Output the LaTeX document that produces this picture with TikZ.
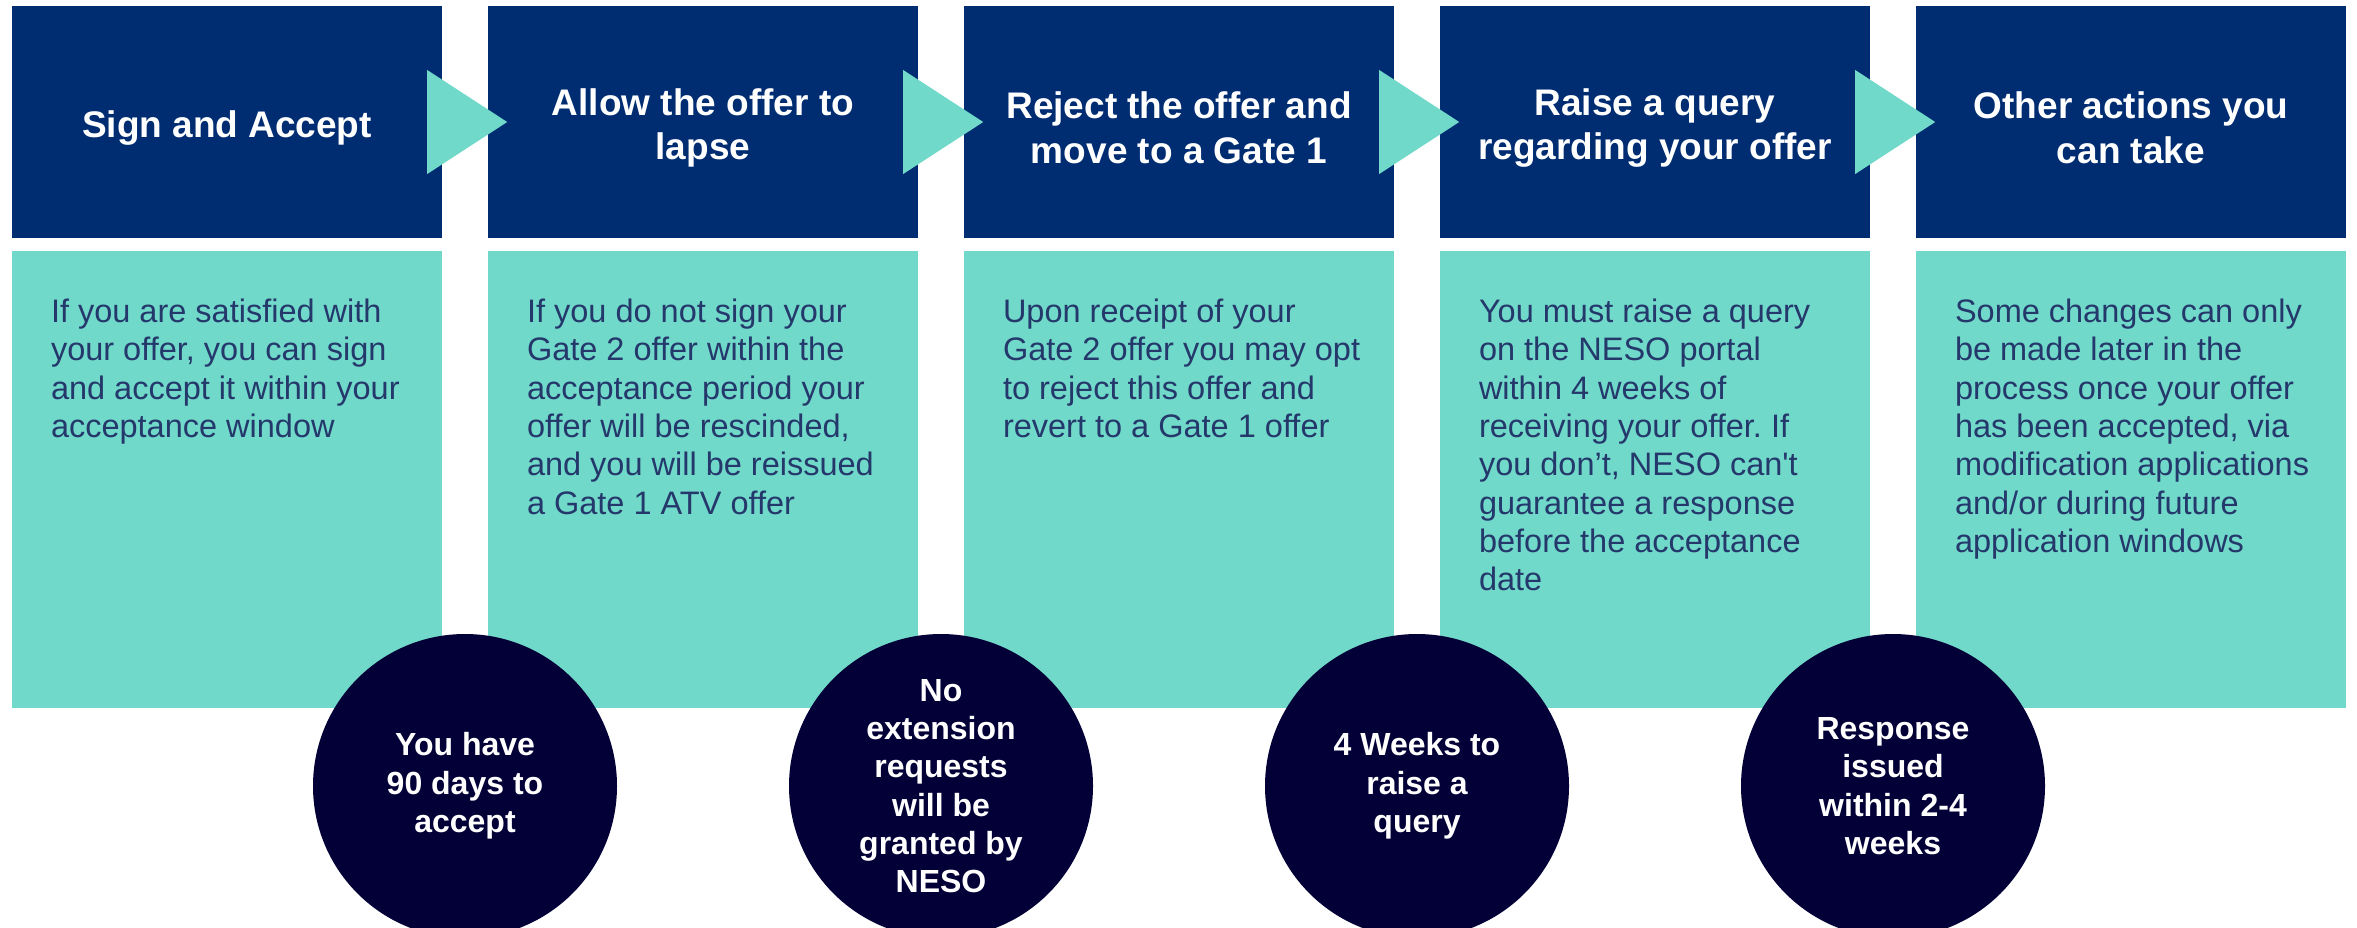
\documentclass[tikz,border=0pt]{standalone}
\usepackage{fontspec}
\setmainfont{Liberation Sans}[Ligatures=TeXOff]
\usepackage{tikz}
\usepackage{xcolor}
\frenchspacing
\definecolor{HeadNavy}{HTML}{002D72}
\definecolor{BodyTeal}{HTML}{71D9C9}
\definecolor{BodyText}{HTML}{24386B}
\definecolor{DotNavy}{HTML}{020036}
\newcommand\headsa{Sign and Accept}
\newcommand\headlapse{Allow the offer to\\lapse}
\newcommand\headreject{Reject the offer and\\move to a Gate 1}
\newcommand\headquery{Raise a query\\regarding your offer}
\newcommand\headother{Other actions you\\can take}
\newcommand\bodysa{If you are satisfied with\\your offer, you can sign\\and accept it within your\\acceptance window}
\newcommand\bodylapse{If you do not sign your\\Gate 2 offer within the\\acceptance period your\\offer will be rescinded,\\and you will be reissued\\a Gate 1 ATV offer}
\newcommand\bodyreject{Upon receipt of your\\Gate 2 offer you may opt\\to reject this offer and\\revert to a Gate 1 offer}
\newcommand\bodyquery{You must raise a query\\on the NESO portal\\within 4 weeks of\\receiving your offer. If\\you don’t, NESO can't\\guarantee a response\\before the acceptance\\date}
\newcommand\bodyother{Some changes can only\\be made later in the\\process once your offer\\has been accepted, via\\modification applications\\and/or during future\\application windows}
\newcommand\dotdays{You have\\90 days to\\accept}
\newcommand\dotext{No\\extension\\requests\\will be\\granted by\\NESO}
\newcommand\dotweeks{4 Weeks to\\raise a\\query}
\newcommand\dotresp{Response\\issued\\within 2-4\\weeks}
\tikzstyle{head} = [rectangle, inner sep=0pt, minimum width=430pt, minimum height=232pt, fill=HeadNavy]
\tikzstyle{headtext} = [inner sep=0pt, yshift=-6pt, text=white, align=center, font=\bfseries\fontsize{37pt}{44.5pt}\selectfont]
\tikzstyle{body} = [rectangle, inner sep=0pt, minimum width=430pt, minimum height=457pt, fill=BodyTeal]
\tikzstyle{bodytext} = [anchor=north west, inner sep=0pt, text=BodyText, align=left, font=\fontsize{32.5pt}{38.3pt}\selectfont]
\tikzstyle{dot} = [circle, inner sep=0pt, minimum size=304pt, fill=DotNavy, text=white, align=center, font=\bfseries\fontsize{32pt}{38.3pt}\selectfont]
\tikzstyle{tri} = [fill=BodyTeal]

\begin{document}
\begin{tikzpicture}[x=1pt, y=-1pt]
\useasboundingbox[fill=white] (0,0) rectangle (2357,927);
\node[head] (h1) at (227, 122) {};
\node[head] (h2) at (703, 122) {};
\node[head] (h3) at (1179, 122) {};
\node[head] (h4) at (1655, 122) {};
\node[head] (h5) at (2131, 122) {};
\node[headtext] (n1) at (h1.center) {\headsa};
\node[headtext] (n2) at (h2.center) {\headlapse};
\node[headtext] (n3) at (h3.center) {\headreject};
\node[headtext] (n4) at (h4.center) {\headquery};
\node[headtext] (n5) at (h5.center) {\headother};
\node[body] (b1) at (227, 479.5) {};
\node[body] (b2) at (703, 479.5) {};
\node[body] (b3) at (1179, 479.5) {};
\node[body] (b4) at (1655, 479.5) {};
\node[body] (b5) at (2131, 479.5) {};
\node[bodytext] (t1) at ([xshift=39pt, yshift=-48pt]b1.north west) {\bodysa};
\node[bodytext] (t2) at ([xshift=39pt, yshift=-48pt]b2.north west) {\bodylapse};
\node[bodytext] (t3) at ([xshift=39pt, yshift=-48pt]b3.north west) {\bodyreject};
\node[bodytext] (t4) at ([xshift=39pt, yshift=-48pt]b4.north west) {\bodyquery};
\node[bodytext] (t5) at ([xshift=39pt, yshift=-48pt]b5.north west) {\bodyother};
\fill[tri] ([xshift=-15pt]h1.east) ++(0,-52) -- ++(80,52) -- ++(-80,52) -- cycle;
\fill[tri] ([xshift=-15pt]h2.east) ++(0,-52) -- ++(80,52) -- ++(-80,52) -- cycle;
\fill[tri] ([xshift=-15pt]h3.east) ++(0,-52) -- ++(80,52) -- ++(-80,52) -- cycle;
\fill[tri] ([xshift=-15pt]h4.east) ++(0,-52) -- ++(80,52) -- ++(-80,52) -- cycle;
\node[dot] (d1) at (465, 786) {\dotdays};
\node[dot] (d2) at (941, 786) {\dotext};
\node[dot] (d3) at (1417, 786) {\dotweeks};
\node[dot] (d4) at (1893, 786) {\dotresp};
\end{tikzpicture}
\end{document}
